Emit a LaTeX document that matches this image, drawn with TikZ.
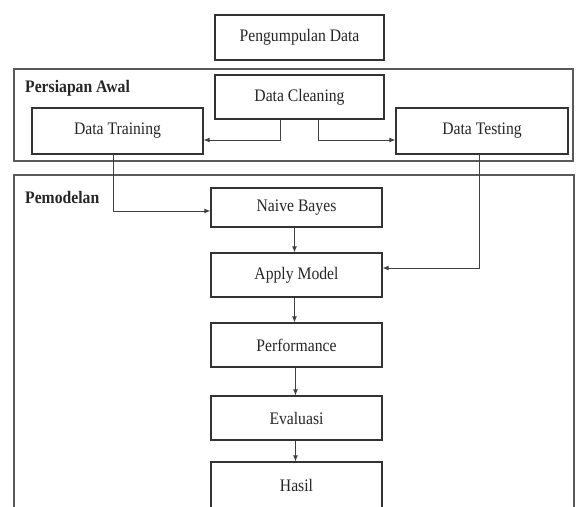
\documentclass[tikz,border=0pt]{standalone}
\usepackage{fontspec}
\usepackage{graphicx}
\setmainfont{Liberation Serif}
\usetikzlibrary{arrows.meta}
\newcommand{\tallt}[1]{\scalebox{0.98}[1.1]{#1}}
\begin{document}
\begin{tikzpicture}[x=1pt,y=-1pt,
  box/.style={draw=black!80,line width=1.3pt,rectangle,inner sep=0pt,
    font=\fontsize{16}{19}\selectfont,text=black!85},
  group/.style={draw=black!65,line width=1.8pt},
  glabel/.style={anchor=west,inner sep=0pt,font=\fontsize{16}{19}\selectfont\bfseries,text=black!85},
  arr/.style={draw=black!75,line width=0.9pt,-{Latex[length=6pt,width=5pt]}}]
\useasboundingbox (0,0) rectangle (578,506);
\fill[white] (0,0) rectangle (578,506);
% group frames
\draw[group] (14,69) rectangle (573,161);
\draw[group] (14,175) rectangle (574,530);
\node[glabel] (lpa) at (25,88) {\tallt{Persiapan Awal}};
\node[glabel] (lpm) at (25,197) {\tallt{Pemodelan}};
% boxes
\node[box,minimum width=169pt,minimum height=45pt] (pd) at (299.5,37.5) {\tallt{Pengumpulan Data}};
\node[box,minimum width=169pt,minimum height=44pt] (dc) at (299.5,97) {\tallt{Data Cleaning}};
\node[box,minimum width=171pt,minimum height=46pt] (dtr) at (117.5,131) {\tallt{Data Training}};
\node[box,minimum width=172pt,minimum height=46pt] (dte) at (482,131) {\tallt{Data Testing}};
\node[box,minimum width=171pt,minimum height=39pt] (nb) at (296.5,207.5) {\tallt{Naive Bayes}};
\node[box,minimum width=171pt,minimum height=44pt] (am) at (296.5,275) {\tallt{Apply Model}};
\node[box,minimum width=171pt,minimum height=44pt] (pf) at (296.5,345) {\tallt{Performance}};
\node[box,minimum width=171pt,minimum height=44pt] (ev) at (296.5,418) {\tallt{Evaluasi}};
\node[box,minimum width=171pt,minimum height=46pt] (hs) at (296.5,485) {\tallt{Hasil}};
% connectors
\draw[arr] ([xshift=-19.5pt]dc.south) |- ([yshift=-9pt]dtr.east);
\draw[arr] ([xshift=18.5pt]dc.south) |- ([yshift=-9pt]dte.west);
\draw[arr] ([xshift=-4pt]dtr.south) |- ([yshift=-3.5pt]nb.west);
\draw[arr] ([xshift=-3pt]dte.south) |- ([yshift=7pt]am.east);
\draw[arr] ([xshift=-2pt]nb.south) -- ([xshift=-2pt]am.north);
\draw[arr] ([xshift=-2pt]am.south) -- ([xshift=-2pt]pf.north);
\draw[arr] ([xshift=-1pt]pf.south) -- ([xshift=-1pt]ev.north);
\draw[arr] ([xshift=-1pt]ev.south) -- ([xshift=-1pt]hs.north);
\end{tikzpicture}
\end{document}
